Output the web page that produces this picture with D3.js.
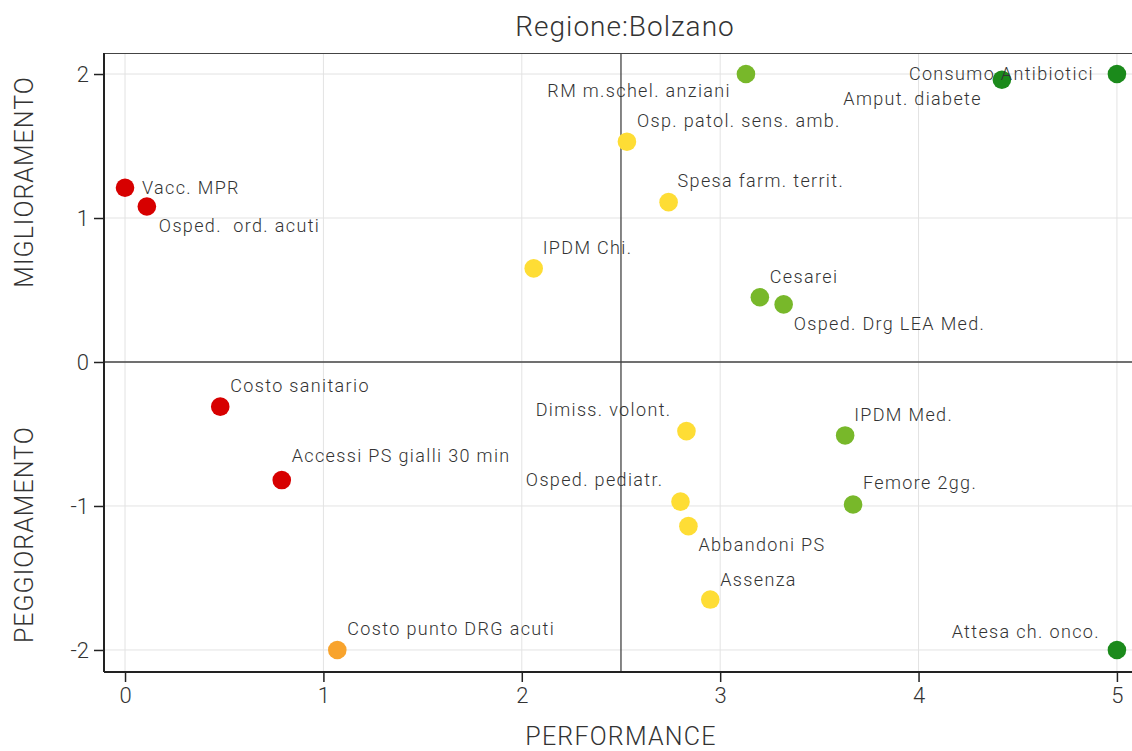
<!DOCTYPE html>
<html>
<head>
<meta charset="utf-8">
<script src="https://cdn.jsdelivr.net/npm/d3@7"></script>
<style>
  body { margin: 0; background: #fff; }
  svg text { font-family: Roboto, "DejaVu Sans Condensed", sans-serif; font-weight: 300; fill: #333; }
</style>
</head>
<body>
<svg id="chart" width="1132" height="751"></svg>
<script>
// Indicator data
const names = [
    'Vacc. MPR', 'Osped.  ord. acuti', 'Costo sanitario', 'Accessi PS gialli 30 min',
    'Costo punto DRG acuti', 'IPDM Chi.', 'Osp. patol. sens. amb.', 'Spesa farm. territ.',
    'RM m.schel. anziani', 'Cesarei', 'Osped. Drg LEA Med.', 'Dimiss. volont.',
    'Osped. pediatr.', 'Abbandoni PS', 'Assenza', 'IPDM Med.', 'Femore 2gg.',
    'Consumo Antibiotici', 'Amput. diabete', 'Attesa ch. onco.'
];
const performance = [0, 0.11, 0.48, 0.79, 1.07, 2.06, 2.53, 2.74, 3.13, 3.20, 3.32, 2.83,
    2.80, 2.84, 2.95, 3.63, 3.67, 5, 4.42, 5];
const trend = [1.21, 1.08, -0.31, -0.82, -2, 0.65, 1.53, 1.11, 2, 0.45, 0.40, -0.48,
    -0.97, -1.14, -1.65, -0.51, -0.99, 2, 1.96, -2];
// colour class: 0 red, 1 orange, 2 yellow, 3 light green, 4 dark green
const colorClass = [0, 0, 0, 0, 1, 2, 2, 2, 3, 3, 3, 2, 2, 2, 2, 3, 3, 4, 4, 4];
const xTicks = [0, 1, 2, 3, 4, 5];
const yTicks = [-2, -1, 0, 1, 2];

// label placement relative to each point: [anchor, dx, dy]
const labelPlacement = [
    ['start', 17, 6], ['start', 12, 26], ['start', 10, -15], ['start', 10, -18],
    ['start', 10, -15], ['start', 9, -14], ['start', 10, -15], ['start', 9, -15],
    ['end', -15, 23], ['start', 10, -14], ['start', 10, 26], ['end', -15, -15],
    ['end', -17, -16], ['start', 10, 25], ['start', 10, -14], ['start', 9, -14],
    ['start', 10, -16], ['end', -23, 6], ['end', -20, 25], ['end', -17, -12]
];
const palette = ['#d70000', '#f8a32c', '#fedd35', '#78b82a', '#1b8a1b'];

const svg = d3.select('#chart');
const margin = { left: 104, top: 53, right: 0, bottom: 79 };
const width = 1132, height = 751;

const x = d3.scaleLinear().domain([-0.106, 5.076]).range([margin.left, width - margin.right]);
const y = d3.scaleLinear().domain([-2.153, 2.146]).range([height - margin.bottom, margin.top]);

const points = names.map((n, i) => ({
    name: n, x: performance[i], y: trend[i], c: colorClass[i], place: labelPlacement[i]
}));

// Grid
svg.append('g')
    .selectAll('line')
    .data(xTicks)
    .join('line')
    .attr('x1', d => x(d)).attr('x2', d => x(d))
    .attr('y1', margin.top).attr('y2', height - margin.bottom)
    .attr('stroke', '#e3e3e3').attr('stroke-width', 1);
svg.append('g')
    .selectAll('line')
    .data(yTicks)
    .join('line')
    .attr('x1', margin.left).attr('x2', width)
    .attr('y1', d => y(d)).attr('y2', d => y(d))
    .attr('stroke', '#e3e3e3').attr('stroke-width', 1);

// Quadrant lines
svg.append('line')
    .attr('x1', x(2.5)).attr('x2', x(2.5))
    .attr('y1', margin.top).attr('y2', height - margin.bottom)
    .attr('stroke', '#444').attr('stroke-width', 1.3);
svg.append('line')
    .attr('x1', margin.left).attr('x2', width)
    .attr('y1', y(0)).attr('y2', y(0))
    .attr('stroke', '#444').attr('stroke-width', 1.3);

// Top frame
svg.append('line')
    .attr('x1', margin.left).attr('x2', width)
    .attr('y1', margin.top + 0.5).attr('y2', margin.top + 0.5)
    .attr('stroke', '#444').attr('stroke-width', 1);

// Axes (hyphen as minus, like the original)
const fmt = d => String(d);
const xAxis = svg.append('g')
    .attr('transform', `translate(0,${height - margin.bottom})`)
    .call(d3.axisBottom(x).tickValues(xTicks).tickSize(10).tickPadding(5).tickFormat(fmt));
const yAxis = svg.append('g')
    .attr('transform', `translate(${margin.left},0)`)
    .call(d3.axisLeft(y).tickValues(yTicks).tickSize(10).tickPadding(5).tickFormat(fmt));

[xAxis, yAxis].forEach(ax => {
    ax.select('.domain').attr('stroke', '#222').attr('stroke-width', 2);
    ax.selectAll('.tick line').attr('stroke', '#222').attr('stroke-width', 1.5);
    ax.selectAll('.tick text').attr('font-size', 22).attr('fill', '#333')
        .style('font-family', 'Roboto, sans-serif').style('font-weight', 300);
});
xAxis.select('.domain').attr('d', `M${margin.left},0H${width}`);
yAxis.select('.domain').attr('d', `M0,${margin.top}V${height - margin.bottom}`);

// Points
svg.append('g')
    .selectAll('circle')
    .data(points)
    .join('circle')
    .attr('cx', d => x(d.x))
    .attr('cy', d => y(d.y))
    .attr('r', 9.3)
    .attr('fill', d => palette[d.c]);

// Labels
svg.append('g')
    .selectAll('text')
    .data(points)
    .join('text')
    .attr('x', d => x(d.x) + d.place[1])
    .attr('y', d => y(d.y) + d.place[2])
    .attr('text-anchor', d => d.place[0])
    .attr('font-size', 18)
    .attr('letter-spacing', 1.35)
    .style('white-space', 'pre')
    .text(d => d.name);

// Title and axis titles
svg.append('text')
    .attr('x', 625).attr('y', 36)
    .attr('text-anchor', 'middle')
    .attr('font-size', 28)
    .attr('letter-spacing', 1)
    .text('Regione:Bolzano');

svg.append('text')
    .attr('x', (margin.left + width) / 2 + 3).attr('y', 745)
    .attr('text-anchor', 'middle')
    .attr('font-size', 25)
    .attr('letter-spacing', 1.2)
    .text('PERFORMANCE');

svg.append('text')
    .attr('transform', `translate(33,${y(1.25)}) rotate(-90)`)
    .attr('text-anchor', 'middle')
    .attr('font-size', 25)
    .attr('letter-spacing', 1)
    .text('MIGLIORAMENTO');

svg.append('text')
    .attr('transform', `translate(33,${y(-1.2)}) rotate(-90)`)
    .attr('text-anchor', 'middle')
    .attr('font-size', 25)
    .attr('letter-spacing', 1)
    .text('PEGGIORAMENTO');
</script>
</body>
</html>
